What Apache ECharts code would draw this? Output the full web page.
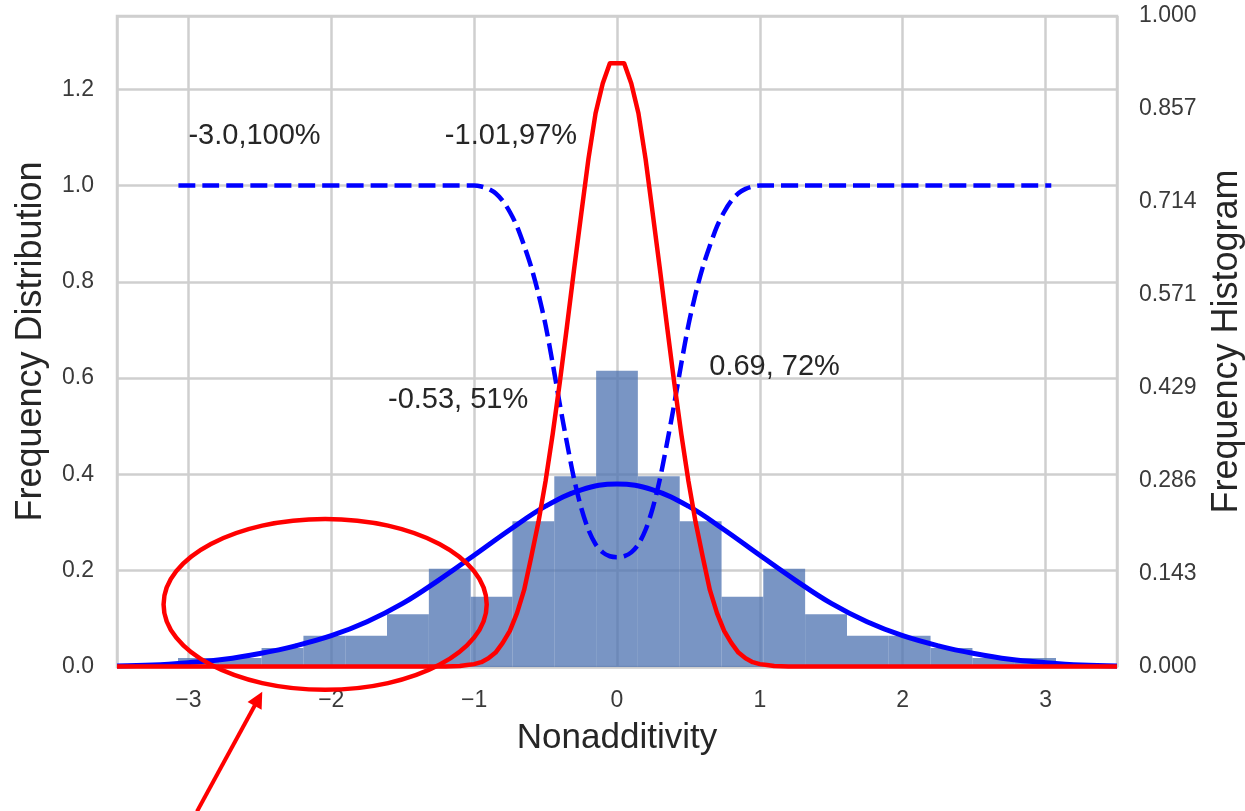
<!DOCTYPE html>
<html>
<head>
<meta charset="utf-8">
<title>Nonadditivity</title>
<script src="https://cdn.jsdelivr.net/npm/echarts@6/dist/echarts.min.js"></script>
<style>
  html, body { margin: 0; padding: 0; background: #ffffff; }
  #chart { width: 1245px; height: 811px; }
</style>
</head>
<body>
<div id="chart"></div>
<script>
// Histogram bin edges (Nonadditivity) and bar heights on the right axis
const binEdges = [-3.073, -2.780, -2.488, -2.195, -1.902, -1.610, -1.317, -1.024, -0.732, -0.439, -0.146,
                   0.146, 0.439, 0.732, 1.024, 1.317, 1.610, 1.902, 2.195, 2.488, 2.780, 3.073];
const binHeights = [0.014, 0.014, 0.029, 0.048, 0.048, 0.081, 0.151, 0.108, 0.224, 0.293, 0.455,
                    0.293, 0.224, 0.108, 0.151, 0.081, 0.048, 0.048, 0.029, 0.014, 0.014];

// Wide distribution curve (blue, solid)
const wideX = [-3.5, -3.25, -3.0, -2.75, -2.5, -2.25, -2.0, -1.75, -1.5, -1.25, -1.0, -0.75, -0.5, -0.25, 0,
               0.25, 0.5, 0.75, 1.0, 1.25, 1.5, 1.75, 2.0, 2.25, 2.5, 2.75, 3.0, 3.25, 3.5];
const wideY = [0.002, 0.004, 0.009, 0.016, 0.028, 0.044, 0.065, 0.094, 0.132, 0.180, 0.232, 0.285, 0.334, 0.368, 0.380,
               0.368, 0.334, 0.285, 0.232, 0.180, 0.132, 0.094, 0.065, 0.044, 0.028, 0.016, 0.009, 0.004, 0.002];

// Narrow distribution curve (red)
const narrowX = [-3.5, -1.2, -1.1, -1.05, -1.0, -0.95, -0.9, -0.85, -0.8, -0.75, -0.7, -0.65, -0.6, -0.55, -0.5,
                 -0.45, -0.4, -0.35, -0.3, -0.25, -0.2, -0.15, -0.1, -0.05,
                 0.05, 0.1, 0.15, 0.2, 0.25, 0.3, 0.35, 0.4, 0.45,
                 0.5, 0.55, 0.6, 0.65, 0.7, 0.75, 0.8, 0.85, 0.9, 0.95, 1.0, 1.05, 1.1, 1.2, 3.5];
const narrowY = [0.001, 0.001, 0.002, 0.004, 0.006, 0.010, 0.018, 0.030, 0.050, 0.075, 0.112, 0.160, 0.229, 0.301, 0.386,
                 0.484, 0.592, 0.708, 0.827, 0.942, 1.055, 1.150, 1.212, 1.254,
                 1.254, 1.212, 1.150, 1.055, 0.942, 0.827, 0.708, 0.592, 0.484,
                 0.386, 0.301, 0.229, 0.160, 0.112, 0.075, 0.050, 0.030, 0.018, 0.010, 0.006, 0.004, 0.002, 0.001, 0.001];

// Cumulative ratio curve (blue, dashed)
const ratioX = [-3.07, -1.0, -0.95, -0.9, -0.85, -0.8, -0.75, -0.7, -0.65, -0.6, -0.55, -0.5, -0.45, -0.4, -0.35,
                -0.3, -0.25, -0.2, -0.15, -0.1, -0.05, 0,
                0.05, 0.1, 0.15, 0.2, 0.25, 0.3, 0.35, 0.4, 0.45, 0.5, 0.55, 0.6, 0.65, 0.7, 0.75, 0.8, 0.85,
                0.9, 0.95, 1.0, 3.04];
const ratioY = [1.0, 1.0, 0.998, 0.993, 0.984, 0.968, 0.945, 0.915, 0.875, 0.830, 0.775, 0.710, 0.630, 0.545, 0.465,
                0.390, 0.330, 0.285, 0.255, 0.238, 0.230, 0.228,
                0.230, 0.238, 0.255, 0.285, 0.330, 0.390, 0.465, 0.545, 0.630, 0.710, 0.775, 0.830, 0.875, 0.915, 0.945, 0.968, 0.984,
                0.993, 0.998, 1.0, 1.0];

// Point annotations: text and anchor (left edge, vertical middle)
const noteTexts = ['-3.0,100%', '-1.01,97%', '-0.53, 51%', '0.69, 72%'];
const noteX = [-3.0, -1.205, -1.603, 0.646];
const noteY = [1.102, 1.102, 0.554, 0.623];

// Highlight ellipse around the left tail: centre and radii in axis units
const ringCenter = [-2.043, 0.130];
const ringRadius = [1.131, 0.1775];

// Pointer arrow: tail and head in axis units
const arrowTail = [-2.94, -0.30];
const arrowHead = [-2.51, -0.066];

const rightTicks = ['0.000', '0.143', '0.286', '0.429', '0.571', '0.714', '0.857', '1.000'];

const FONT = '"Liberation Sans", Arial, sans-serif';
const TEXT = '#262626';
const GRID = '#cfcfcf';

const zip = (xs, ys) => xs.map((x, i) => [x, ys[i]]);
const bins = binHeights.map((h, i) => [binEdges[i], binEdges[i + 1], h]);

const chart = echarts.init(document.getElementById('chart'), null, { renderer: 'canvas' });

chart.setOption({
  animation: false,
  backgroundColor: '#ffffff',
  grid: {
    left: 117, right: 128, top: 16, bottom: 144,
    outerBoundsMode: 'none', containLabel: false,
    show: true, borderColor: GRID, borderWidth: 2.5, backgroundColor: 'transparent'
  },
  xAxis: {
    type: 'value', min: -3.5, max: 3.5, splitNumber: 7,
    name: 'Nonadditivity', nameLocation: 'middle', nameGap: 54,
    nameTextStyle: { fontFamily: FONT, fontSize: 35, color: TEXT },
    axisLine: { show: false }, axisTick: { show: false },
    axisLabel: {
      margin: 22, fontFamily: FONT, fontSize: 23, color: '#3a3a3a',
      formatter: v => Number.isInteger(Math.round(v * 1000) / 1000) ? (v < 0 ? '\u2212' + Math.abs(v) : String(v)) : ''
    },
    splitLine: { show: true, lineStyle: { color: GRID, width: 2.5 } }
  },
  yAxis: [
    {
      type: 'value', min: 0, max: 1.352, interval: 0.2, position: 'left',
      name: 'Frequency Distribution', nameLocation: 'middle', nameGap: 68,
      nameTextStyle: { fontFamily: FONT, fontSize: 36, color: TEXT },
      axisLine: { show: false }, axisTick: { show: false },
      axisLabel: {
        margin: 23, fontFamily: FONT, fontSize: 23, color: '#3a3a3a',
        formatter: v => Math.abs(v / 0.2 - Math.round(v / 0.2)) < 1e-6 ? v.toFixed(1) : ''
      },
      splitLine: { show: true, lineStyle: { color: GRID, width: 2.5 } }
    },
    {
      type: 'value', min: 0, max: 1, interval: 1 / 7, position: 'right',
      name: 'Frequency Histogram', nameLocation: 'middle', nameGap: 92,
      nameTextStyle: { fontFamily: FONT, fontSize: 36, color: TEXT },
      axisLine: { show: false }, axisTick: { show: false },
      axisLabel: {
        margin: 22, fontFamily: FONT, fontSize: 23, color: '#3a3a3a',
        formatter: v => rightTicks[Math.round(v * 7)] || ''
      },
      splitLine: { show: false }
    }
  ],
  series: [
    {
      name: 'Histogram', type: 'custom', yAxisIndex: 1, z: 1,
      data: bins,
      encode: { x: [0, 1], y: 2 },
      renderItem: (params, api) => {
        const p0 = api.coord([api.value(0), 0]);
        const p1 = api.coord([api.value(1), api.value(2)]);
        return {
          type: 'rect',
          shape: { x: p0[0], y: p1[1], width: p1[0] - p0[0], height: p0[1] - p1[1] },
          style: { fill: 'rgba(76,114,176,0.75)' }
        };
      }
    },
    {
      name: 'Ratio', type: 'line', yAxisIndex: 0, z: 3,
      data: zip(ratioX, ratioY), showSymbol: false, symbol: 'none',
      smooth: 0.3,
      lineStyle: { color: '#0000ff', width: 4.5, type: [17, 7] }
    },
    {
      name: 'Wide', type: 'line', yAxisIndex: 0, z: 4,
      data: zip(wideX, wideY), showSymbol: false, symbol: 'none',
      smooth: 0.4,
      lineStyle: { color: '#0000ff', width: 5 }
    },
    {
      name: 'Narrow', type: 'line', yAxisIndex: 0, z: 5,
      data: zip(narrowX, narrowY), showSymbol: false, symbol: 'none',
      smooth: false,
      lineStyle: { color: '#ff0000', width: 4.5, join: 'round' }
    },
    {
      name: 'Notes', type: 'custom', yAxisIndex: 0, z: 6,
      data: noteX.map((x, i) => [x, noteY[i], i]),
      renderItem: (params, api) => {
        const p = api.coord([api.value(0), api.value(1)]);
        return {
          type: 'text', x: p[0], y: p[1],
          style: {
            text: noteTexts[api.value(2)], fill: TEXT,
            font: '29px ' + FONT, align: 'left', verticalAlign: 'middle'
          }
        };
      }
    },
    {
      name: 'Ring', type: 'custom', yAxisIndex: 0, z: 7, clip: false,
      data: [[ringCenter[0], ringCenter[1], ringRadius[0], ringRadius[1]]],
      renderItem: (params, api) => {
        const c = api.coord([api.value(0), api.value(1)]);
        const s = api.size([api.value(2), api.value(3)]);
        return {
          type: 'ellipse',
          shape: { cx: c[0], cy: c[1], rx: s[0], ry: s[1] },
          style: { fill: 'none', stroke: '#ff0000', lineWidth: 4.5 }
        };
      }
    },
    {
      name: 'Pointer', type: 'lines', coordinateSystem: 'cartesian2d', yAxisIndex: 0, z: 7, clip: false,
      symbol: ['none', 'triangle'], symbolSize: 16,
      lineStyle: { color: '#ff0000', width: 4, opacity: 1 },
      itemStyle: { color: '#ff0000' },
      data: [{ coords: [arrowTail, arrowHead] }]
    }
  ]
});
</script>
</body>
</html>
